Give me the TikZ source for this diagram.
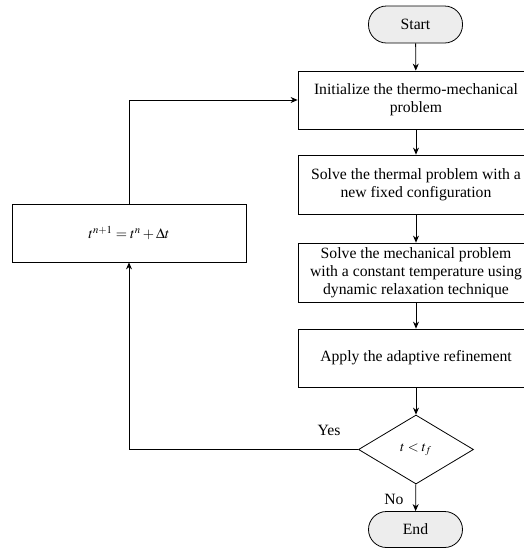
\documentclass[tikz,border=0pt]{standalone}
\usepackage{mathptmx}
\usepackage{fontspec}
\setmainfont{Liberation Serif}
\usetikzlibrary{shapes.geometric,arrows.meta}
\begin{document}
\begin{tikzpicture}[x=1pt,y=-1pt,
  box/.style={draw,line width=0.8pt,minimum width=236pt,minimum height=58pt,align=center,inner sep=0pt,font=\fontsize{15.7}{18}\selectfont},
  term/.style={draw,line width=0.8pt,fill=black!7,rounded corners=18pt,minimum width=94pt,minimum height=37pt,font=\fontsize{15.7}{18}\selectfont},
  dec/.style={draw,line width=0.8pt,diamond,aspect=1.667,inner sep=0pt,minimum width=115pt,minimum height=69pt},
  conn/.style={line width=0.8pt,-{Stealth[length=7pt,width=6pt]}},
  lab/.style={font=\fontsize{15.7}{18}\selectfont}]
\clip (0,0) rectangle (524,550);
\node[term] (start) at (415.5,24.5) {Start};
\node[box] (init) at (416,100) {Initialize the thermo-mechanical\\problem};
\node[box,minimum height=59pt] (therm) at (416,184.5) {Solve the thermal problem with a\\new fixed configuration};
\node[box,minimum height=59pt] (mech) at (416,272.5) {Solve the mechanical problem\\with a constant temperature using\\dynamic relaxation technique};
\node[box] (apply) at (416,358) {Apply the adaptive refinement};
\node[dec] (dec) at (416,449.5) {\fontsize{14}{18}\selectfont$t<t_f$};
\node[term,minimum height=36pt] (end) at (415.5,529.5) {End};
\node[box,minimum width=234pt] (upd) at (129,233) {\fontsize{14.5}{18}\selectfont$t^{n+1}=t^n+\Delta t$};
\draw[conn] (start) -- (init);
\draw[conn] (init) -- (therm);
\draw[conn] (therm) -- (mech);
\draw[conn] (mech) -- (apply);
\draw[conn] (apply) -- (dec);
\draw[conn] (dec) -- (end);
\draw[conn] (dec.west) -| (upd.south);
\draw[conn] (upd.north) |- (init.west);
\node[lab] (yes) at (329,430) {Yes};
\node[lab] (no) at (394,499) {No};
\end{tikzpicture}
\end{document}
